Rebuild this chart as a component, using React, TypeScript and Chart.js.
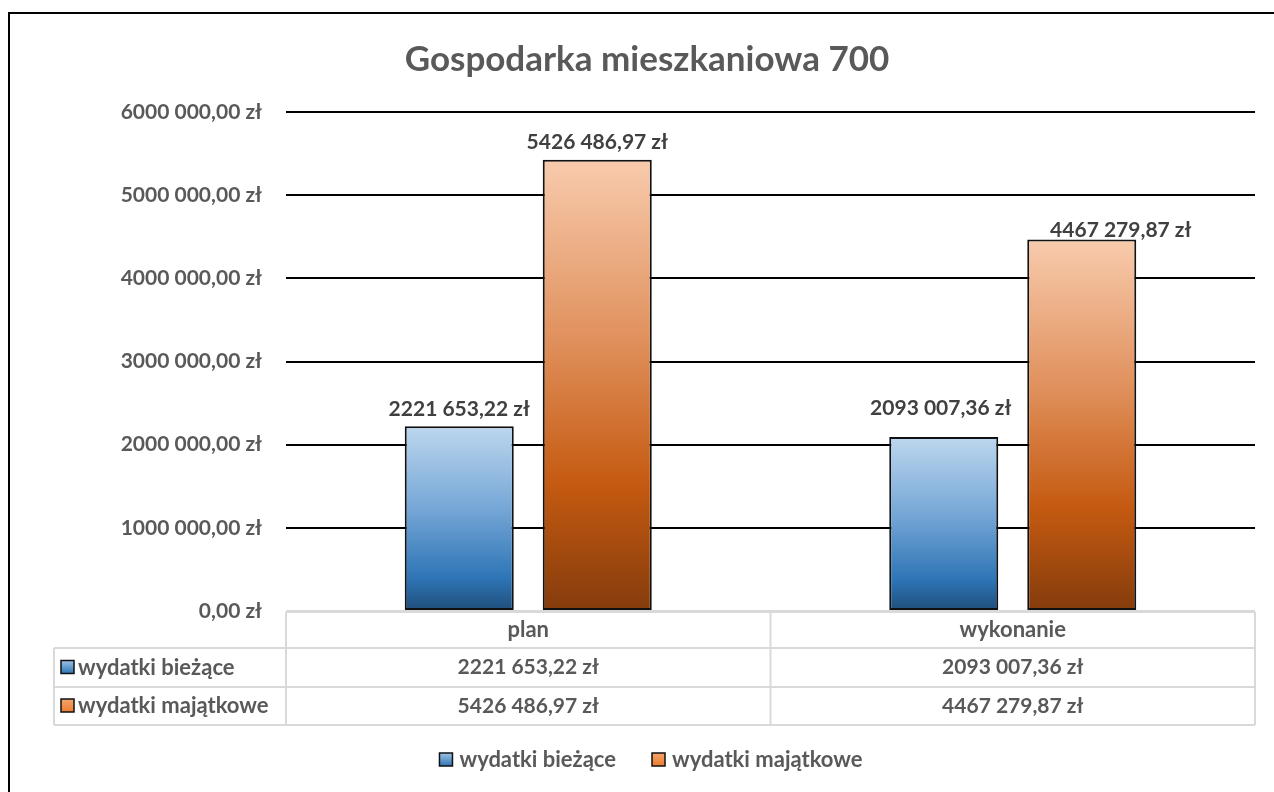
import React, { useEffect, useRef } from 'react';
import { Chart, registerables } from 'chart.js';
Chart.register(...registerables);

const TITLE = 'Gospodarka mieszkaniowa 700';
const categories = ['plan', 'wykonanie'];
const seriesNames = ['wydatki bieżące', 'wydatki majątkowe'];
const biezace = [2221653.22, 2093007.36];
const majatkowe = [5426486.97, 4467279.87];
const yMin = 0;
const yMax = 6000000;
const yStep = 1000000;

// style constants (not data)
const FONT = 'Lato, "Open Sans", sans-serif';
const TEXT = '#595959';
const LABEL = '#404040';
const TABLE_BORDER = '#d9d9d9';
const W = 1274;
const H = 792;
// label nudges [dataset][index] in px (matching the reference placement)
const labelNudges = [
  [[0, -17], [-3, -29]],
  [[0, -17], [39, -9]],
];

function fmt(v: number): string {
  const fixed = v.toFixed(2);
  const [int, dec] = fixed.split('.');
  const intStr = int.length > 3 ? int.slice(0, -3) + ' ' + int.slice(-3) : int;
  return intStr + ',' + dec + ' zł';
}

const blueStops: [number, string][] = [
  [0, '#bdd7ee'],
  [0.45, '#75a6d6'],
  [0.82, '#2e75b6'],
  [1, '#1f4e79'],
];
const orangeStops: [number, string][] = [
  [0, '#f8cbad'],
  [0.4, '#e0905c'],
  [0.72, '#c55a11'],
  [1, '#843c0c'],
];
const seriesStops = [blueStops, orangeStops];
const keyStops: [number, string][][] = [
  [[0, '#9dc3e6'], [1, '#2e75b6']],
  [[0, '#f4a46c'], [1, '#ed7d31']],
];

function makeGrad(ctx: CanvasRenderingContext2D, y0: number, y1: number, stops: [number, string][]) {
  const g = ctx.createLinearGradient(0, y0, 0, y1);
  stops.forEach(([o, c]) => g.addColorStop(o, c));
  return g;
}

function drawKey(ctx: CanvasRenderingContext2D, x: number, y: number, s: number, si: number) {
  ctx.save();
  ctx.fillStyle = makeGrad(ctx, y, y + s, keyStops[si]);
  ctx.fillRect(x, y, s, s);
  ctx.strokeStyle = '#111';
  ctx.lineWidth = 1.5;
  ctx.strokeRect(x, y, s, s);
  ctx.restore();
}

const decorPlugin = {
  id: 'decor',
  beforeDraw(chart: any) {
    const ctx = chart.ctx as CanvasRenderingContext2D;
    ctx.save();
    ctx.fillStyle = '#fff';
    ctx.fillRect(0, 0, W, H);
    ctx.strokeStyle = '#000';
    ctx.lineWidth = 2;
    ctx.strokeRect(9, 13, W + 20, H + 20);
    // title
    ctx.fillStyle = TEXT;
    ctx.font = `bold 35px ${FONT}`;
    ctx.textAlign = 'center';
    ctx.textBaseline = 'middle';
    ctx.fillText(TITLE, 647, 60);
    ctx.restore();
  },
  afterDatasetsDraw(chart: any) {
    const ctx = chart.ctx as CanvasRenderingContext2D;
    ctx.save();
    ctx.font = `bold 21px ${FONT}`;
    ctx.fillStyle = LABEL;
    ctx.textAlign = 'center';
    ctx.textBaseline = 'middle';
    chart.data.datasets.forEach((ds: any, di: number) => {
      const meta = chart.getDatasetMeta(di);
      meta.data.forEach((el: any, i: number) => {
        const [dx, dy] = labelNudges[di][i];
        ctx.fillText(fmt(ds.data[i]), el.x + dx, el.y + dy);
      });
    });
    ctx.restore();
  },
  afterDraw(chart: any) {
    const ctx = chart.ctx as CanvasRenderingContext2D;
    const area = chart.chartArea;
    const xs = chart.scales.x;
    const left = area.left;
    const right = area.right;
    const top = area.bottom + 1;
    const rowH = [36, 39, 38];
    const y1 = top + rowH[0];
    const y2 = y1 + rowH[1];
    const y3 = y2 + rowH[2];
    const labelLeft = 54;
    const n = categories.length;
    const colW = (right - left) / n;
    ctx.save();
    ctx.strokeStyle = TABLE_BORDER;
    ctx.lineWidth = 2;
    ctx.beginPath();
    ctx.moveTo(left, top); ctx.lineTo(right, top);
    ctx.moveTo(labelLeft, y1); ctx.lineTo(right, y1);
    ctx.moveTo(labelLeft, y2); ctx.lineTo(right, y2);
    ctx.moveTo(labelLeft, y3); ctx.lineTo(right, y3);
    ctx.moveTo(labelLeft, y1); ctx.lineTo(labelLeft, y3);
    for (let i = 0; i <= n; i++) {
      const x = left + colW * i;
      ctx.moveTo(x, top); ctx.lineTo(x, y3);
    }
    ctx.stroke();

    ctx.fillStyle = TEXT;
    ctx.textAlign = 'center';
    ctx.textBaseline = 'middle';
    ctx.font = `bold 22px ${FONT}`;
    categories.forEach((c, i) => {
      const cx = xs.getPixelForValue(i);
      ctx.fillText(c, cx, (top + y1) / 2);
    });
    const rows = [biezace, majatkowe];
    const rowTops = [y1, y2];
    rows.forEach((vals, ri) => {
      const cy = rowTops[ri] + rowH[ri + 1] / 2;
      ctx.font = `bold 21px ${FONT}`;
      ctx.textAlign = 'center';
      vals.forEach((v, i) => {
        ctx.fillText(fmt(v), xs.getPixelForValue(i), cy);
      });
      drawKey(ctx, labelLeft + 7, cy - 7, 13, ri);
      ctx.font = `bold 22px ${FONT}`;
      ctx.textAlign = 'left';
      ctx.fillText(seriesNames[ri], labelLeft + 24, cy);
    });

    // legend
    ctx.font = `bold 22px ${FONT}`;
    ctx.textAlign = 'left';
    const ly = 760;
    const keyS = 13;
    const gapKeyText = 7;
    const gapItems = 36;
    const widths = seriesNames.map((s) => ctx.measureText(s).width);
    const total = widths.reduce((a, b) => a + b, 0) + seriesNames.length * (keyS + gapKeyText) + gapItems * (seriesNames.length - 1);
    let x = 651 - total / 2;
    seriesNames.forEach((s, i) => {
      drawKey(ctx, x, ly - 7, keyS, i);
      x += keyS + gapKeyText;
      ctx.fillText(s, x, ly);
      x += widths[i] + gapItems;
    });
    ctx.restore();
  },
};

export default function App() {
  const ref = useRef<HTMLCanvasElement | null>(null);
  useEffect(() => {
    const canvas = ref.current;
    if (!canvas) return;
    const bg = (si: number) => (ctx: any) => {
      const chart = ctx.chart;
      const ys = chart.scales && chart.scales.y;
      if (!ys || ctx.dataIndex === undefined) return seriesStops[si][2][1];
      const v = ctx.dataset.data[ctx.dataIndex];
      const yTop = ys.getPixelForValue(v);
      const yBot = ys.getPixelForValue(0);
      if (!isFinite(yTop) || !isFinite(yBot)) return seriesStops[si][2][1];
      return makeGrad(chart.ctx, yTop, yBot, seriesStops[si]);
    };
    const chart = new Chart(canvas, {
      type: 'bar',
      data: {
        labels: categories,
        datasets: [
          { label: seriesNames[0], data: biezace, backgroundColor: bg(0), borderColor: '#111', borderWidth: 2, borderSkipped: false },
          { label: seriesNames[1], data: majatkowe, backgroundColor: bg(1), borderColor: '#111', borderWidth: 2, borderSkipped: false },
        ],
      },
      options: {
        responsive: false,
        animation: false,
        devicePixelRatio: 1,
        layout: { padding: { left: 10, top: 112, right: W - 1255, bottom: H - 611 } },
        datasets: { bar: { categoryPercentage: 0.5697, barPercentage: 0.79 } },
        plugins: { legend: { display: false }, title: { display: false }, tooltip: { enabled: false } },
        scales: {
          x: { display: false },
          y: {
            min: yMin,
            max: yMax,
            afterFit: (scale: any) => { scale.width = 276; },
            border: { display: false },
            grid: {
              drawTicks: false,
              lineWidth: 2,
              color: (c: any) => (c.tick && c.tick.value === 0 ? TABLE_BORDER : '#000'),
            },
            ticks: {
              stepSize: yStep,
              padding: 24,
              color: TEXT,
              font: { family: FONT, size: 21, weight: 'bold' },
              callback: (v: any) => fmt(Number(v)),
            },
          },
        },
      },
      plugins: [decorPlugin],
    });
    return () => chart.destroy();
  }, []);
  return (
    <div style={{ position: 'fixed', left: 0, top: 0, width: W, height: H, background: '#fff' }}>
      <canvas ref={ref} width={W} height={H} style={{ display: 'block' }} />
    </div>
  );
}
